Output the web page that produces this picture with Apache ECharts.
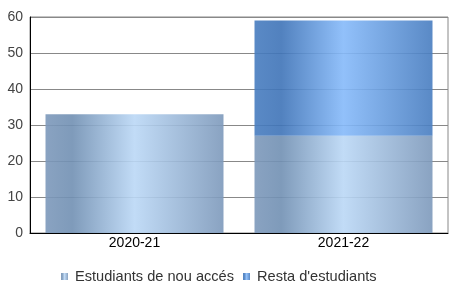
<!DOCTYPE html>
<html><head><meta charset="utf-8">
<script src="https://cdn.jsdelivr.net/npm/echarts@6/dist/echarts.min.js"></script>
<style>html,body{margin:0;padding:0;background:#fff}#c{width:456px;height:305px}</style>
</head><body><div id="c"></div>
<script>
const categories = ['2020-21', '2021-22'];
const nouAcces = [33, 27];
const resta = [0, 32];
const seriesNames = ['Estudiants de nou accés', "Resta d'estudiants"];
const yTicks = [0, 10, 20, 30, 40, 50, 60];

function grad(edge, dark, center) {
  return new echarts.graphic.LinearGradient(0, 0, 1, 0, [
    {offset: 0, color: edge},
    {offset: 0.15, color: dark},
    {offset: 0.5, color: center},
    {offset: 1, color: edge}
  ]);
}
const c1 = grad('#7d99bb', '#7190b3', '#bbd8f6');
const c2 = grad('#487dc0', '#3f74b8', '#86bafa');
const font = 'Liberation Sans, Arial, sans-serif';

const chart = echarts.init(document.getElementById('c'));
chart.setOption({
  animation: false,
  grid: {left: 30, right: 8, top: 17, bottom: 72, show: true, borderColor: '#888', borderWidth: 1},
  legend: {
    left: 56, top: 264, itemWidth: 7, itemHeight: 7, itemGap: 9,
    icon: 'rect',
    textStyle: {fontFamily: font, fontSize: 14.6, color: '#333', padding: [0, 0, 9, 2]},
    data: seriesNames
  },
  xAxis: {
    type: 'category', data: categories,
    axisLine: {lineStyle: {color: '#000', width: 1}},
    axisTick: {show: false},
    axisLabel: {color: '#000', fontFamily: font, fontSize: 14, margin: 3}
  },
  yAxis: {
    type: 'value', min: yTicks[0], max: yTicks[yTicks.length - 1], interval: 10,
    axisLine: {show: true, lineStyle: {color: '#000', width: 1}},
    axisTick: {show: false},
    splitLine: {lineStyle: {color: '#888', width: 1}},
    axisLabel: {color: '#444', fontFamily: font, fontSize: 14, margin: 7}
  },
  series: [
    {name: seriesNames[0], type: 'bar', stack: 's', data: nouAcces, barWidth: 178,
     itemStyle: {color: c1, opacity: 0.9}},
    {name: seriesNames[1], type: 'bar', stack: 's', data: resta, barWidth: 178,
     itemStyle: {color: c2, opacity: 0.9}}
  ]
});
</script></body></html>
